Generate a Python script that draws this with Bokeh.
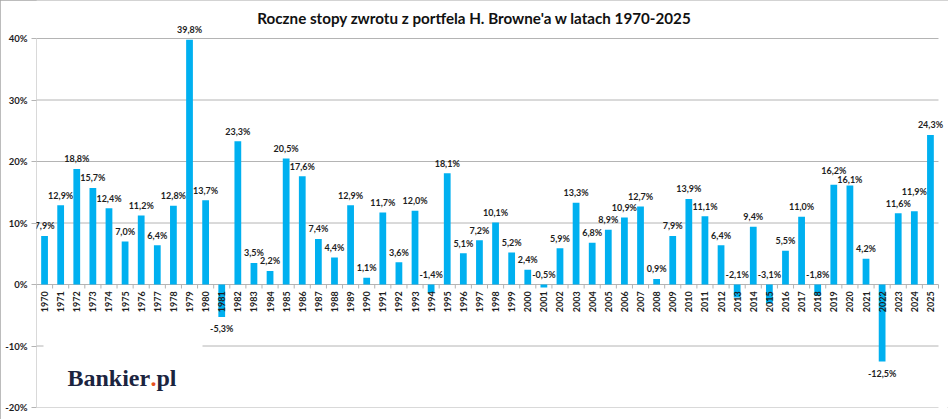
import math
from bokeh.plotting import figure
from bokeh.models import Range1d, FixedTicker, Label
from bokeh.core.properties import value
from bokeh.embed import file_html
from bokeh.resources import INLINE

# ---- data ----
years = list(range(1970, 2026))
returns = [7.9, 12.9, 18.8, 15.7, 12.4, 7.0, 11.2, 6.4, 12.8, 39.8,
           13.7, -5.3, 23.3, 3.5, 2.2, 20.5, 17.6, 7.4, 4.4, 12.9,
           1.1, 11.7, 3.6, 12.0, -1.4, 18.1, 5.1, 7.2, 10.1, 5.2,
           2.4, -0.5, 5.9, 13.3, 6.8, 8.9, 10.9, 12.7, 0.9, 7.9,
           13.9, 11.1, 6.4, -2.1, 9.4, -3.1, 5.5, 11.0, -1.8, 16.2,
           16.1, 4.2, -12.5, 11.6, 11.9, 24.3]
y_ticks = [-20, -10, 0, 10, 20, 30, 40]
y_tick_labels = ["-20%", "-10%", "0%", "10%", "20%", "30%", "40%"]
title_text = "Roczne stopy zwrotu z portfela H. Browne'a w latach 1970-2025"

# manual label nudges (pixels, positive = up) as in the original chart
label_nudge_px = {2019: 4.5, 2020: -4.5, 2024: 9.5}

FONT = "Lato"
BAR = "#00B0F0"
GRID = "#B4B4B4"
TXT = "#1E1E1E"

W, H = 948, 419
PX_PER_PCT = 6.15
y_top = 40 + 38 / PX_PER_PCT
x_lo, x_hi = years[0] - 0.5, years[-1] + 0.5
x_right = x_hi + 10 / 16.107

p = figure(width=W, height=H, output_backend="svg", toolbar_location=None,
           x_range=Range1d(x_lo, x_right), y_range=Range1d(-20, y_top),
           x_axis_location=None, min_border_left=36, min_border_right=0,
           min_border_top=0, min_border_bottom=12)
p.outline_line_color = None
p.background_fill_color = "white"
p.border_fill_color = "white"
p.styles = {"outline": "1px solid #A6A6A6", "outline-offset": "-1px"}

# y axis (ticks + labels only; line drawn as segment)
ya = p.yaxis[0]
ya.ticker = FixedTicker(ticks=y_ticks)
ya.major_label_overrides = {t: l for t, l in zip(y_ticks, y_tick_labels)}
ya.axis_line_color = None
ya.major_tick_line_color = GRID
ya.major_tick_out = 5
ya.major_tick_in = 0
ya.minor_tick_line_color = None
ya.major_label_standoff = 4
ya.major_label_text_font = FONT
ya.major_label_text_font_style = "bold"
ya.major_label_text_font_size = "9.5px"
ya.major_label_text_color = TXT

p.xgrid.visible = False
p.ygrid.visible = False

# horizontal gridlines
p.segment(x0=[x_lo] * len(y_ticks), y0=y_ticks, x1=[x_hi] * len(y_ticks), y1=y_ticks,
          line_color=GRID, line_width=1)
# vertical axis line
p.segment(x0=[x_lo], y0=[y_ticks[0]], x1=[x_lo], y1=[y_ticks[-1]], line_color=GRID, line_width=1)

# logo backdrop (hides gridline behind logo)
p.quad(left=[x_lo + 7 / 16.107], right=[x_lo + 166 / 16.107], bottom=[-17.5], top=[-8.0],
       fill_color="white", line_color=None)

# bars
p.vbar(x=years, top=returns, bottom=0, width=0.42, fill_color=BAR, line_color=None)

# category ticks between bars on the zero line
bounds = [y - 0.5 for y in years] + [years[-1] + 0.5]
p.segment(x0=bounds, y0=[0] * len(bounds), x1=bounds, y1=[-0.65] * len(bounds),
          line_color=GRID, line_width=1)

# year labels (vertical)
p.text(x=years, y=[-1.1] * len(years), text=[str(y) for y in years],
       angle=math.pi / 2, text_align="right", text_baseline="middle",
       text_font=value(FONT), text_font_style="bold", text_font_size="9px",
       text_color=TXT)

# data labels
lab = [f"{v:.1f}".replace(".", ",") + "%" for v in returns]
pos_x, pos_y, pos_t = [], [], []
neg_x, neg_y, neg_t = [], [], []
for yr, v, t in zip(years, returns, lab):
    nudge = label_nudge_px.get(yr, 0) / PX_PER_PCT
    if v >= 0:
        pos_x.append(yr); pos_y.append(v + 0.75 + nudge); pos_t.append(t)
    elif v > -5:
        pos_x.append(yr); pos_y.append(0.75 + nudge); pos_t.append(t)
    else:
        neg_x.append(yr); neg_y.append(v - 1.0 + nudge); neg_t.append(t)
p.text(x=pos_x, y=pos_y, text=pos_t, text_align="center", text_baseline="bottom",
       text_font=value(FONT), text_font_style="bold", text_font_size="9px", text_color=TXT)
p.text(x=neg_x, y=neg_y, text=neg_t, text_align="center", text_baseline="top",
       text_font=value(FONT), text_font_style="bold", text_font_size="9px", text_color=TXT)

# title
p.add_layout(Label(x=x_lo + (474 - 36) / 16.107, y=y_top - 17 / PX_PER_PCT, text=title_text,
                   text_align="center", text_baseline="middle", text_font=FONT,
                   text_font_style="bold", text_font_size="15.2px", text_color="#111111"))

# logo
NAVY = "#1B2440"
lx, ly = x_lo + 31 / 16.107, -15.24
p.add_layout(Label(x=lx, y=ly, text="Bankier", text_font="Liberation Serif",
                   text_font_style="bold", text_font_size="24px", text_color=NAVY,
                   text_baseline="alphabetic"))
p.add_layout(Label(x=lx, y=ly, x_offset=83, text=".", text_font="Liberation Serif",
                   text_font_style="bold", text_font_size="24px", text_color="#E8501E",
                   text_baseline="alphabetic"))
p.add_layout(Label(x=lx, y=ly, x_offset=89, text="pl", text_font="Liberation Serif",
                   text_font_style="bold", text_font_size="24px", text_color=NAVY,
                   text_baseline="alphabetic"))

open("out.html", "w").write(file_html(p, INLINE))
